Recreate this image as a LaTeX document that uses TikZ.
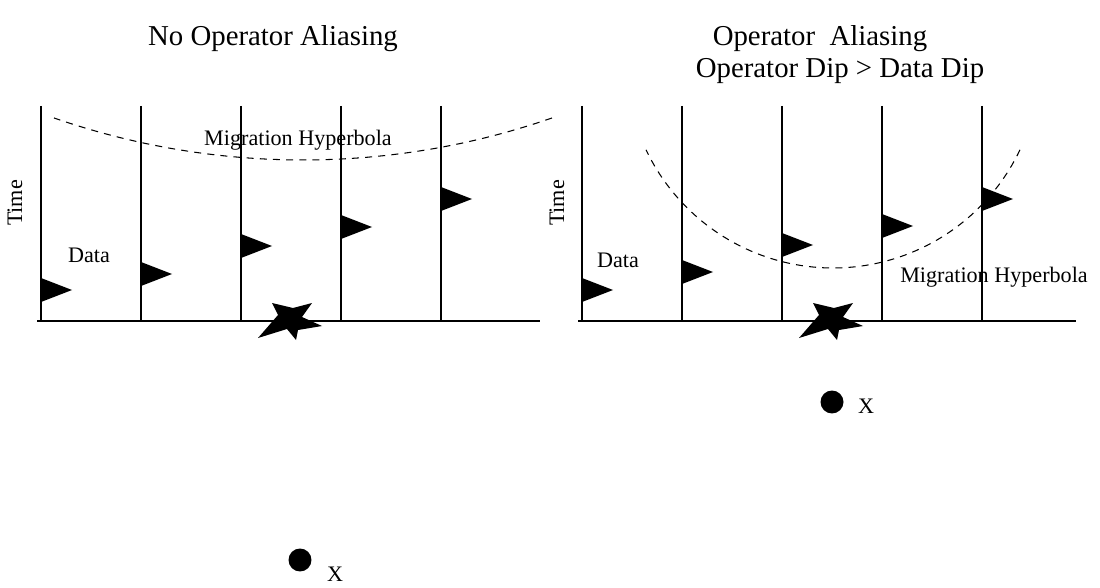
\documentclass[tikz,border=0pt]{standalone}
\usepackage{fontspec}
\setmainfont{Liberation Serif}
\usetikzlibrary{positioning}
\tikzstyle{bigtitle} = [font=\fontsize{16.4}{19}\selectfont, inner sep=0pt, anchor=base]
\tikzstyle{smalllabel} = [font=\fontsize{12.6}{15}\selectfont, inner sep=0pt, anchor=base]
\tikzstyle{trace} = [line width=0.6pt]
\tikzstyle{surface} = [line width=1.3pt]
\tikzstyle{hyperbola} = [line width=0.6pt, dash pattern=on 4pt off 3.5pt]
\tikzstyle{pointdot} = [circle, fill=black, inner sep=0pt, minimum size=0.46cm]
\newcommand{\traceflag}[2]{\fill (#1,#2-12) -- (#1,#2+12) -- (#1+31,#2) -- cycle;}
\newcommand{\sourcestar}[2]{\fill[shift={(#1,#2)}] (-16,-15) -- (5,-10) -- (24,-15) -- (14,-1) -- (34,8) -- (10,12) -- (8,22) -- (-1,11) -- (-30,20) -- (-10,-3) -- cycle;}

\begin{document}
\begin{tikzpicture}[x=0.02cm, y=-0.02cm]
	\useasboundingbox (0,0) rectangle (1100,588);
	% left panel
	\node[bigtitle] (titleL) at (273,46) {No Operator Aliasing};
	\draw[trace] (41,106) -- (41,321);
	\draw[trace] (141,106) -- (141,321);
	\draw[trace] (241,106) -- (241,321);
	\draw[trace] (341,106) -- (341,321);
	\draw[trace] (441,106) -- (441,321);
	\draw[surface] (37,321) -- (540,321);
	\draw[hyperbola] plot[domain=70.85:109.15, samples=60] ({303+759*cos(\x)}, {-599+759*sin(\x)});
	\traceflag{41}{290}
	\traceflag{141}{274}
	\traceflag{241}{246}
	\traceflag{341}{227}
	\traceflag{441}{199}
	\sourcestar{288}{318}
	\node[smalllabel] (hypL) at (298,146) {Migration Hyperbola};
	\node[smalllabel] (dataL) at (89,262) {Data};
	\node[smalllabel, rotate=90, anchor=center] (timeL) at (15,203) {Time};
	\node[pointdot] (dotL) at (300,560) {};
	\node[smalllabel, anchor=west, right=0.3cm of dotL, yshift=-0.28cm] (xL) {X};
	% right panel
	\node[bigtitle] (titleR) at (820,46) {Operator\ \ Aliasing};
	\node[bigtitle] (titleRR) at (840,78) {Operator Dip > Data Dip};
	\draw[trace] (582,106) -- (582,321);
	\draw[trace] (682,106) -- (682,321);
	\draw[trace] (782,106) -- (782,321);
	\draw[trace] (882,106) -- (882,321);
	\draw[trace] (982,106) -- (982,321);
	\draw[surface] (578,321) -- (1076,321);
	\draw[hyperbola] plot[domain=25.4:154.6, samples=80] ({833+207*cos(\x)}, {61+207*sin(\x)});
	\traceflag{582}{290}
	\traceflag{682}{272}
	\traceflag{782}{245}
	\traceflag{882}{226}
	\traceflag{982}{199}
	\sourcestar{829}{318}
	\node[smalllabel] (hypR) at (994,282) {Migration Hyperbola};
	\node[smalllabel] (dataR) at (618,268) {Data};
	\node[smalllabel, rotate=90, anchor=center] (timeR) at (557,203) {Time};
	\node[pointdot] (dotR) at (832,402) {};
	\node[smalllabel, anchor=west, right=0.28cm of dotR, yshift=-0.08cm] (xR) {X};
\end{tikzpicture}
\end{document}
